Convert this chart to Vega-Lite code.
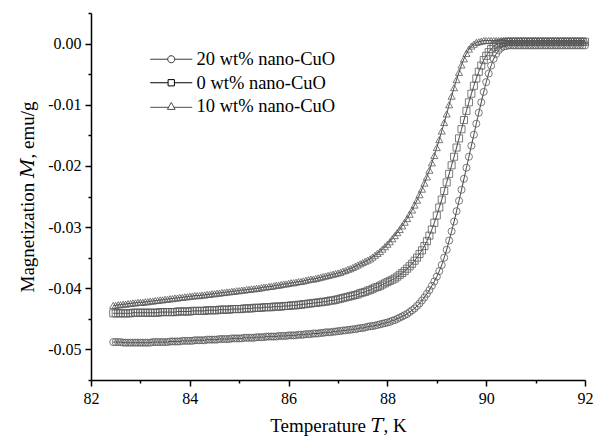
{
"$schema": "https://vega.github.io/schema/vega-lite/v6.json",
"width": 494, "height": 367,
"autosize": {"type": "none"},
"padding": {"left": 91, "top": 13, "right": 12, "bottom": 58},
"background": "white",
"config": {"view": {"stroke": null}},
"data": {"values": [
{"T":82.45,"a":-0.0488,"b":-0.0441,"c":-0.0428},
{"T":82.50,"a":-0.0488,"b":-0.0441,"c":-0.0428},
{"T":82.55,"a":-0.0488,"b":-0.0441,"c":-0.0427},
{"T":82.60,"a":-0.0488,"b":-0.0441,"c":-0.0427},
{"T":82.65,"a":-0.0489,"b":-0.0441,"c":-0.0426},
{"T":82.70,"a":-0.0489,"b":-0.0441,"c":-0.0426},
{"T":82.75,"a":-0.0489,"b":-0.0441,"c":-0.0425},
{"T":82.80,"a":-0.0489,"b":-0.0441,"c":-0.0425},
{"T":82.85,"a":-0.0489,"b":-0.0440,"c":-0.0424},
{"T":82.90,"a":-0.0489,"b":-0.0440,"c":-0.0424},
{"T":82.95,"a":-0.0489,"b":-0.0440,"c":-0.0423},
{"T":83.00,"a":-0.0489,"b":-0.0440,"c":-0.0423},
{"T":83.05,"a":-0.0489,"b":-0.0440,"c":-0.0423},
{"T":83.10,"a":-0.0489,"b":-0.0440,"c":-0.0422},
{"T":83.15,"a":-0.0489,"b":-0.0440,"c":-0.0422},
{"T":83.20,"a":-0.0489,"b":-0.0440,"c":-0.0421},
{"T":83.25,"a":-0.0488,"b":-0.0440,"c":-0.0421},
{"T":83.30,"a":-0.0488,"b":-0.0440,"c":-0.0420},
{"T":83.35,"a":-0.0488,"b":-0.0440,"c":-0.0420},
{"T":83.40,"a":-0.0488,"b":-0.0439,"c":-0.0419},
{"T":83.45,"a":-0.0488,"b":-0.0439,"c":-0.0419},
{"T":83.50,"a":-0.0488,"b":-0.0439,"c":-0.0418},
{"T":83.55,"a":-0.0488,"b":-0.0439,"c":-0.0418},
{"T":83.60,"a":-0.0487,"b":-0.0439,"c":-0.0417},
{"T":83.65,"a":-0.0487,"b":-0.0439,"c":-0.0417},
{"T":83.70,"a":-0.0487,"b":-0.0439,"c":-0.0416},
{"T":83.75,"a":-0.0487,"b":-0.0438,"c":-0.0416},
{"T":83.80,"a":-0.0487,"b":-0.0438,"c":-0.0415},
{"T":83.85,"a":-0.0486,"b":-0.0438,"c":-0.0415},
{"T":83.90,"a":-0.0486,"b":-0.0438,"c":-0.0414},
{"T":83.95,"a":-0.0486,"b":-0.0438,"c":-0.0414},
{"T":84.00,"a":-0.0486,"b":-0.0438,"c":-0.0413},
{"T":84.05,"a":-0.0486,"b":-0.0437,"c":-0.0413},
{"T":84.10,"a":-0.0485,"b":-0.0437,"c":-0.0412},
{"T":84.15,"a":-0.0485,"b":-0.0437,"c":-0.0412},
{"T":84.20,"a":-0.0485,"b":-0.0437,"c":-0.0412},
{"T":84.25,"a":-0.0485,"b":-0.0437,"c":-0.0411},
{"T":84.30,"a":-0.0485,"b":-0.0437,"c":-0.0411},
{"T":84.35,"a":-0.0484,"b":-0.0436,"c":-0.0410},
{"T":84.40,"a":-0.0484,"b":-0.0436,"c":-0.0410},
{"T":84.45,"a":-0.0484,"b":-0.0436,"c":-0.0409},
{"T":84.50,"a":-0.0484,"b":-0.0436,"c":-0.0409},
{"T":84.55,"a":-0.0484,"b":-0.0436,"c":-0.0408},
{"T":84.60,"a":-0.0483,"b":-0.0435,"c":-0.0408},
{"T":84.65,"a":-0.0483,"b":-0.0435,"c":-0.0407},
{"T":84.70,"a":-0.0483,"b":-0.0435,"c":-0.0407},
{"T":84.75,"a":-0.0483,"b":-0.0435,"c":-0.0406},
{"T":84.80,"a":-0.0483,"b":-0.0435,"c":-0.0406},
{"T":84.85,"a":-0.0482,"b":-0.0434,"c":-0.0405},
{"T":84.90,"a":-0.0482,"b":-0.0434,"c":-0.0405},
{"T":84.95,"a":-0.0482,"b":-0.0434,"c":-0.0404},
{"T":85.00,"a":-0.0482,"b":-0.0434,"c":-0.0404},
{"T":85.05,"a":-0.0482,"b":-0.0434,"c":-0.0403},
{"T":85.10,"a":-0.0481,"b":-0.0433,"c":-0.0403},
{"T":85.15,"a":-0.0481,"b":-0.0433,"c":-0.0402},
{"T":85.20,"a":-0.0481,"b":-0.0433,"c":-0.0402},
{"T":85.25,"a":-0.0481,"b":-0.0433,"c":-0.0401},
{"T":85.30,"a":-0.0481,"b":-0.0432,"c":-0.0401},
{"T":85.35,"a":-0.0480,"b":-0.0432,"c":-0.0400},
{"T":85.40,"a":-0.0480,"b":-0.0432,"c":-0.0400},
{"T":85.45,"a":-0.0480,"b":-0.0432,"c":-0.0399},
{"T":85.50,"a":-0.0480,"b":-0.0431,"c":-0.0398},
{"T":85.55,"a":-0.0479,"b":-0.0431,"c":-0.0398},
{"T":85.60,"a":-0.0479,"b":-0.0431,"c":-0.0397},
{"T":85.65,"a":-0.0479,"b":-0.0431,"c":-0.0397},
{"T":85.70,"a":-0.0479,"b":-0.0430,"c":-0.0396},
{"T":85.75,"a":-0.0479,"b":-0.0430,"c":-0.0395},
{"T":85.80,"a":-0.0478,"b":-0.0430,"c":-0.0395},
{"T":85.85,"a":-0.0478,"b":-0.0430,"c":-0.0394},
{"T":85.90,"a":-0.0478,"b":-0.0429,"c":-0.0393},
{"T":85.95,"a":-0.0478,"b":-0.0429,"c":-0.0393},
{"T":86.00,"a":-0.0477,"b":-0.0429,"c":-0.0392},
{"T":86.05,"a":-0.0477,"b":-0.0428,"c":-0.0391},
{"T":86.10,"a":-0.0477,"b":-0.0428,"c":-0.0391},
{"T":86.15,"a":-0.0477,"b":-0.0428,"c":-0.0390},
{"T":86.20,"a":-0.0476,"b":-0.0427,"c":-0.0389},
{"T":86.25,"a":-0.0476,"b":-0.0427,"c":-0.0389},
{"T":86.30,"a":-0.0476,"b":-0.0426,"c":-0.0388},
{"T":86.35,"a":-0.0475,"b":-0.0426,"c":-0.0387},
{"T":86.40,"a":-0.0475,"b":-0.0425,"c":-0.0386},
{"T":86.45,"a":-0.0475,"b":-0.0425,"c":-0.0385},
{"T":86.50,"a":-0.0474,"b":-0.0424,"c":-0.0385},
{"T":86.55,"a":-0.0474,"b":-0.0424,"c":-0.0384},
{"T":86.60,"a":-0.0474,"b":-0.0423,"c":-0.0383},
{"T":86.65,"a":-0.0473,"b":-0.0423,"c":-0.0382},
{"T":86.70,"a":-0.0473,"b":-0.0422,"c":-0.0381},
{"T":86.75,"a":-0.0472,"b":-0.0422,"c":-0.0380},
{"T":86.80,"a":-0.0472,"b":-0.0421,"c":-0.0379},
{"T":86.85,"a":-0.0472,"b":-0.0420,"c":-0.0378},
{"T":86.90,"a":-0.0471,"b":-0.0420,"c":-0.0377},
{"T":86.95,"a":-0.0471,"b":-0.0419,"c":-0.0376},
{"T":87.00,"a":-0.0470,"b":-0.0418,"c":-0.0375},
{"T":87.05,"a":-0.0470,"b":-0.0417,"c":-0.0374},
{"T":87.10,"a":-0.0469,"b":-0.0416,"c":-0.0372},
{"T":87.15,"a":-0.0469,"b":-0.0415,"c":-0.0371},
{"T":87.20,"a":-0.0468,"b":-0.0414,"c":-0.0369},
{"T":87.25,"a":-0.0468,"b":-0.0413,"c":-0.0368},
{"T":87.30,"a":-0.0467,"b":-0.0412,"c":-0.0366},
{"T":87.35,"a":-0.0467,"b":-0.0411,"c":-0.0364},
{"T":87.40,"a":-0.0466,"b":-0.0410,"c":-0.0362},
{"T":87.45,"a":-0.0465,"b":-0.0408,"c":-0.0360},
{"T":87.50,"a":-0.0465,"b":-0.0407,"c":-0.0358},
{"T":87.55,"a":-0.0464,"b":-0.0406,"c":-0.0356},
{"T":87.60,"a":-0.0463,"b":-0.0404,"c":-0.0354},
{"T":87.65,"a":-0.0462,"b":-0.0403,"c":-0.0352},
{"T":87.70,"a":-0.0462,"b":-0.0401,"c":-0.0349},
{"T":87.75,"a":-0.0461,"b":-0.0399,"c":-0.0346},
{"T":87.80,"a":-0.0460,"b":-0.0398,"c":-0.0343},
{"T":87.85,"a":-0.0459,"b":-0.0396,"c":-0.0340},
{"T":87.90,"a":-0.0458,"b":-0.0394,"c":-0.0336},
{"T":87.95,"a":-0.0457,"b":-0.0392,"c":-0.0332},
{"T":88.00,"a":-0.0456,"b":-0.0390,"c":-0.0328},
{"T":88.05,"a":-0.0455,"b":-0.0388,"c":-0.0324},
{"T":88.10,"a":-0.0453,"b":-0.0386,"c":-0.0319},
{"T":88.15,"a":-0.0452,"b":-0.0384,"c":-0.0314},
{"T":88.20,"a":-0.0450,"b":-0.0381,"c":-0.0309},
{"T":88.25,"a":-0.0448,"b":-0.0378,"c":-0.0304},
{"T":88.30,"a":-0.0446,"b":-0.0375,"c":-0.0298},
{"T":88.35,"a":-0.0444,"b":-0.0372,"c":-0.0292},
{"T":88.40,"a":-0.0442,"b":-0.0368,"c":-0.0286},
{"T":88.45,"a":-0.0439,"b":-0.0364,"c":-0.0279},
{"T":88.50,"a":-0.0436,"b":-0.0360,"c":-0.0272},
{"T":88.55,"a":-0.0433,"b":-0.0355,"c":-0.0264},
{"T":88.60,"a":-0.0429,"b":-0.0350,"c":-0.0256},
{"T":88.65,"a":-0.0425,"b":-0.0344,"c":-0.0247},
{"T":88.70,"a":-0.0420,"b":-0.0338,"c":-0.0238},
{"T":88.75,"a":-0.0415,"b":-0.0331,"c":-0.0228},
{"T":88.80,"a":-0.0409,"b":-0.0323,"c":-0.0218},
{"T":88.85,"a":-0.0403,"b":-0.0314,"c":-0.0207},
{"T":88.90,"a":-0.0396,"b":-0.0304,"c":-0.0195},
{"T":88.95,"a":-0.0389,"b":-0.0293,"c":-0.0183},
{"T":89.00,"a":-0.0381,"b":-0.0281,"c":-0.0170},
{"T":89.05,"a":-0.0372,"b":-0.0268,"c":-0.0157},
{"T":89.10,"a":-0.0362,"b":-0.0255,"c":-0.0143},
{"T":89.15,"a":-0.0350,"b":-0.0241,"c":-0.0129},
{"T":89.20,"a":-0.0337,"b":-0.0227,"c":-0.0115},
{"T":89.25,"a":-0.0322,"b":-0.0213,"c":-0.0100},
{"T":89.30,"a":-0.0307,"b":-0.0199,"c":-0.0086},
{"T":89.35,"a":-0.0291,"b":-0.0185,"c":-0.0072},
{"T":89.40,"a":-0.0274,"b":-0.0170,"c":-0.0059},
{"T":89.45,"a":-0.0257,"b":-0.0155,"c":-0.0047},
{"T":89.50,"a":-0.0239,"b":-0.0140,"c":-0.0035},
{"T":89.55,"a":-0.0221,"b":-0.0125,"c":-0.0025},
{"T":89.60,"a":-0.0203,"b":-0.0110,"c":-0.0016},
{"T":89.65,"a":-0.0185,"b":-0.0096,"c":-0.0009},
{"T":89.70,"a":-0.0167,"b":-0.0082,"c":-0.0004},
{"T":89.75,"a":-0.0149,"b":-0.0069,"c":-0.0001},
{"T":89.80,"a":-0.0131,"b":-0.0057,"c":0.0002},
{"T":89.85,"a":-0.0113,"b":-0.0046,"c":0.0003},
{"T":89.90,"a":-0.0096,"b":-0.0036,"c":0.0004},
{"T":89.95,"a":-0.0079,"b":-0.0027,"c":0.0005},
{"T":90.00,"a":-0.0063,"b":-0.0020,"c":0.0005},
{"T":90.05,"a":-0.0049,"b":-0.0014,"c":0.0005},
{"T":90.10,"a":-0.0036,"b":-0.0009,"c":0.0005},
{"T":90.15,"a":-0.0025,"b":-0.0005,"c":0.0005},
{"T":90.20,"a":-0.0017,"b":-0.0002,"c":0.0005},
{"T":90.25,"a":-0.0011,"b":0.0000,"c":0.0005},
{"T":90.30,"a":-0.0007,"b":0.0001,"c":0.0005},
{"T":90.35,"a":-0.0005,"b":0.0002,"c":0.0005},
{"T":90.40,"a":-0.0004,"b":0.0003,"c":0.0005},
{"T":90.45,"a":-0.0003,"b":0.0003,"c":0.0005},
{"T":90.50,"a":-0.0003,"b":0.0003,"c":0.0005},
{"T":90.55,"a":-0.0003,"b":0.0003,"c":0.0005},
{"T":90.60,"a":-0.0003,"b":0.0003,"c":0.0005},
{"T":90.65,"a":-0.0003,"b":0.0003,"c":0.0005},
{"T":90.70,"a":-0.0003,"b":0.0003,"c":0.0005},
{"T":90.75,"a":-0.0003,"b":0.0003,"c":0.0005},
{"T":90.80,"a":-0.0003,"b":0.0003,"c":0.0005},
{"T":90.85,"a":-0.0003,"b":0.0003,"c":0.0005},
{"T":90.90,"a":-0.0003,"b":0.0003,"c":0.0005},
{"T":90.95,"a":-0.0003,"b":0.0003,"c":0.0005},
{"T":91.00,"a":-0.0003,"b":0.0003,"c":0.0005},
{"T":91.05,"a":-0.0003,"b":0.0003,"c":0.0005},
{"T":91.10,"a":-0.0003,"b":0.0003,"c":0.0005},
{"T":91.15,"a":-0.0003,"b":0.0003,"c":0.0005},
{"T":91.20,"a":-0.0003,"b":0.0003,"c":0.0005},
{"T":91.25,"a":-0.0003,"b":0.0003,"c":0.0005},
{"T":91.30,"a":-0.0003,"b":0.0003,"c":0.0005},
{"T":91.35,"a":-0.0003,"b":0.0003,"c":0.0005},
{"T":91.40,"a":-0.0003,"b":0.0003,"c":0.0005},
{"T":91.45,"a":-0.0003,"b":0.0003,"c":0.0005},
{"T":91.50,"a":-0.0003,"b":0.0003,"c":0.0005},
{"T":91.55,"a":-0.0003,"b":0.0003,"c":0.0005},
{"T":91.60,"a":-0.0003,"b":0.0003,"c":0.0005},
{"T":91.65,"a":-0.0003,"b":0.0003,"c":0.0005},
{"T":91.70,"a":-0.0003,"b":0.0003,"c":0.0005},
{"T":91.75,"a":-0.0003,"b":0.0003,"c":0.0005},
{"T":91.80,"a":-0.0003,"b":0.0003,"c":0.0005},
{"T":91.85,"a":-0.0003,"b":0.0003,"c":0.0005},
{"T":91.90,"a":-0.0003,"b":0.0003,"c":0.0005},
{"T":91.95,"a":-0.0003,"b":0.0003,"c":0.0005},
{"T":92.00,"a":-0.0003,"b":0.0003,"c":0.0005}
]},
"transform": [{"fold": ["a", "b", "c"], "as": ["key", "M"]}],
"encoding": {
  "x": {"field": "T", "type": "quantitative",
    "scale": {"domain": [82, 92], "nice": false, "zero": false},
    "axis": {
      "values": [82, 83, 84, 85, 86, 87, 88, 89, 90, 91, 92],
      "labelExpr": "datum.value % 2 == 0 ? datum.label : ''",
      "tickSize": {"condition": {"test": "datum.value % 2 == 0", "value": 6}, "value": 3},
      "grid": false, "domainColor": "black", "domainWidth": 1.5,
      "tickColor": "black", "tickWidth": 1.5,
      "labelFont": "Liberation Serif", "labelFontSize": 16, "labelColor": "black",
      "labelPadding": 4, "labelOverlap": false, "labelFlush": false,
      "title": "Temperature 𝑇, K", "titleFont": "Liberation Serif, DejaVu Serif", "titleFontSize": 19,
      "titleFontWeight": "normal", "titleColor": "black", "titlePadding": 10
    }},
  "y": {"field": "M", "type": "quantitative",
    "scale": {"domain": [-0.055, 0.005], "nice": false, "zero": false},
    "axis": {
      "values": [-0.055, -0.05, -0.045, -0.04, -0.035, -0.03, -0.025, -0.02, -0.015, -0.01, -0.005, 0, 0.005],
      "labelExpr": "abs(round(datum.value * 1000)) % 10 == 0 ? replace(format(datum.value, '.2f'), '\u2212', '-') : ''",
      "tickSize": {"condition": {"test": "abs(round(datum.value * 1000)) % 10 == 0", "value": 6}, "value": 3},
      "grid": false, "domainColor": "black", "domainWidth": 1.5,
      "tickColor": "black", "tickWidth": 1.5,
      "labelFont": "Liberation Serif", "labelFontSize": 16, "labelColor": "black",
      "labelPadding": 4, "labelOverlap": false, "labelFlush": false,
      "title": "Magnetization 𝑀, emu/g", "titleFont": "Liberation Serif, DejaVu Serif", "titleFontSize": 19,
      "titleFontWeight": "normal", "titleColor": "black", "titlePadding": 10
    }}
},
"layer": [
  {"mark": {"type": "line", "strokeWidth": 0.8},
   "encoding": {
     "strokeDash": {"field": "key", "type": "nominal",
       "scale": {"domain": ["a", "b", "c"], "range": [[1, 0], [1, 0], [1, 0]]},
       "legend": {
         "values": ["a"], "orient": "none", "legendX": 71, "legendY": 37, "title": null, "padding": 0,
         "labelFont": "Liberation Serif", "labelFontSize": 18.5, "labelColor": "black",
         "labelExpr": "'20 wt% nano-CuO'",
         "symbolSize": 49, "labelOffset": 16, "symbolStrokeWidth": 1, "symbolStrokeColor": "#222",
         "symbolType": "M-6,0H-1M1,0H6M-1,0A1,1 0 1,1 1,0A1,1 0 1,1 -1,0Z"
       }},
     "color": {"field": "key", "type": "nominal",
       "scale": {"domain": ["a", "b", "c", "x"], "range": ["black", "black", "black", "black"]},
       "legend": {
         "values": ["b"], "orient": "none", "legendX": 71, "legendY": 60.5, "title": null, "padding": 0,
         "labelFont": "Liberation Serif", "labelFontSize": 18.5, "labelColor": "black",
         "labelExpr": "'0 wt% nano-CuO'",
         "symbolSize": 49, "labelOffset": 16, "symbolStrokeWidth": 1, "symbolStrokeColor": "#222",
         "symbolType": "M-6,0H-0.9M0.9,0H6M-0.9,-0.9H0.9V0.9H-0.9Z"
       }},
     "strokeWidth": {"field": "key", "type": "nominal",
       "scale": {"domain": ["a", "b", "c", "y"], "range": [0.8, 0.8, 0.8, 0.8]},
       "legend": {
         "values": ["c"], "orient": "none", "legendX": 71, "legendY": 84, "title": null, "padding": 0,
         "labelFont": "Liberation Serif", "labelFontSize": 18.5, "labelColor": "black",
         "labelExpr": "'10 wt% nano-CuO'",
         "symbolSize": 49, "labelOffset": 16, "symbolStrokeWidth": 1, "symbolStrokeColor": "#222",
         "symbolType": "M-6,0.3H-0.77M0.77,0.3H6M0,-1.1L1.1,0.9H-1.1Z"
       }}
   }},
  {"mark": {"type": "point", "filled": false, "size": 50, "strokeWidth": 0.8, "color": "#5a5a5a", "opacity": 1},
   "encoding": {"shape": {"field": "key", "type": "nominal",
     "scale": {"range": ["circle", "square", "triangle-up"]},
     "legend": null}}}
]
}
